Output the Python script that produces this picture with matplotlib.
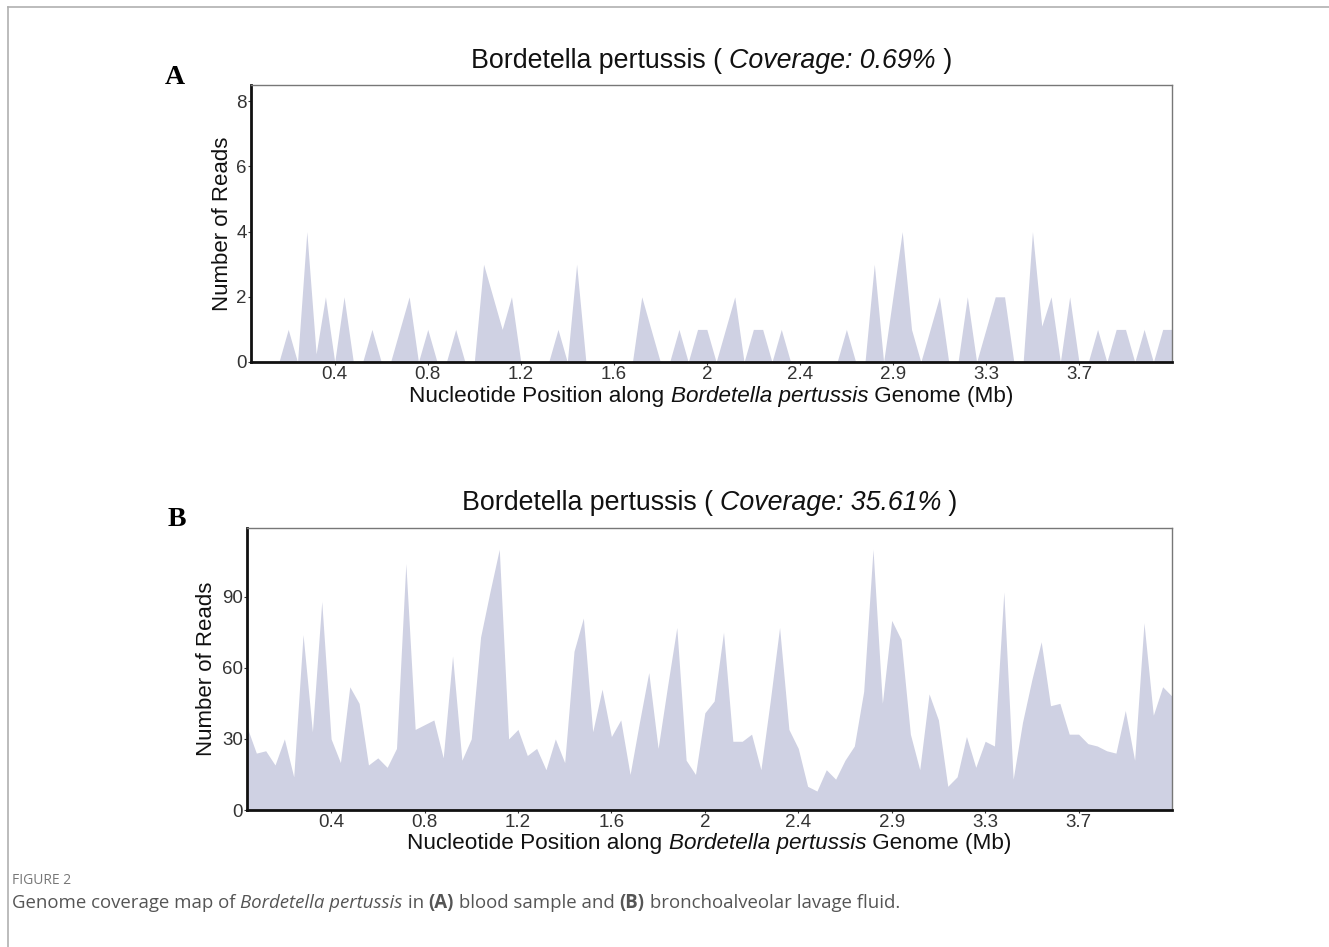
import matplotlib
matplotlib.use("Agg")
import matplotlib.pyplot as plt
import numpy as np
from matplotlib.lines import Line2D

plt.rcParams['font.family'] = ['Liberation Sans', 'DejaVu Sans']

# genome bins (Mb), 40 kb wide
bin_mb = np.round(np.arange(1, 101) * 0.04, 2)

# panel A: blood sample
reads_blood = [0, 0, 0, 0, 1, 0, 4, 0.25, 2, 0,
               2, 0, 0, 1, 0, 0, 1, 2, 0, 1,
               0, 0, 1, 0, 0, 3, 2, 1, 2, 0,
               0, 0, 0, 1, 0, 3, 0, 0, 0, 0,
               0, 0, 2, 1, 0, 0, 1, 0, 1, 1,
               0, 1, 2, 0, 1, 1, 0, 1, 0, 0,
               0, 0, 0, 0, 1, 0, 0, 3, 0, 2,
               4, 1, 0, 1, 2, 0, 0, 2, 0, 1,
               2, 2, 0, 0, 4, 1.1, 2, 0, 2, 0,
               0, 1, 0, 1, 1, 0, 1, 0, 1, 1]

# panel B: bronchoalveolar lavage fluid
reads_balf = [35, 24, 25, 19, 30, 14, 74, 33, 88, 30,
              20, 52, 45, 19, 22, 18, 26, 104, 34, 36,
              38, 22, 65, 21, 30, 73, 92, 110, 30, 34,
              23, 26, 17, 30, 20, 67, 81, 33, 51, 31,
              38, 15, 37, 58, 26, 52, 77, 21, 15, 41,
              46, 75, 29, 29, 32, 17, 46, 77, 34, 26,
              10, 8, 17, 13, 21, 27, 50, 110, 45, 80,
              72, 32, 17, 49, 38, 10, 14, 31, 18, 29,
              27, 92, 13, 37, 55, 71, 44, 45, 32, 32,
              28, 27, 25, 24, 42, 21, 79, 40, 52, 48]

tick_pos = [0.4, 0.8, 1.2, 1.6, 2.0, 2.4, 2.8, 3.2, 3.6]
tick_labels = ['0.4', '0.8', '1.2', '1.6', '2', '2.4', '2.9', '3.3', '3.7']

W, H = 1329, 947
fig = plt.figure(figsize=(W / 100, H / 100), dpi=100)
renderer = fig.canvas.get_renderer()
fill_color = '#cfd1e3'


def px_rect(left, top, right, bottom):
    return [left / W, 1 - bottom / H, (right - left) / W, (bottom - top) / H]


def mixed_text(x, y, parts, size, color, family='Liberation Sans', align='center'):
    """Lay out (text, style, weight) pieces on one line; x, y in pixels from top-left."""
    items = []
    total = 0
    for text, style, weight in parts:
        t = fig.text(0, 1 - y / H, text, ha='left', va='center', fontsize=size,
                     color=color, family=family, style=style, fontweight=weight)
        w = t.get_window_extent(renderer).width
        items.append((t, w))
        total += w
    start = x - total / 2 if align == 'center' else x
    for t, w in items:
        t.set_x(start / W)
        start += w


def draw_panel(rect, reads, ylim, yticks, title_pct, title_y, letter, letter_xy, ylab_x, xlab_y):
    ax = fig.add_axes(px_rect(*rect))
    ax.fill_between(bin_mb, reads, 0, color=fill_color, lw=0)
    ax.set_xlim(bin_mb[0], bin_mb[-1])
    ax.set_ylim(*ylim)
    ax.set_yticks(yticks)
    ax.set_xticks(tick_pos)
    ax.set_xticklabels(tick_labels)
    ax.tick_params(axis='both', labelsize=13.5, colors='#333333', length=2.5, width=0.8, pad=0.5)

    for side in ['left', 'bottom']:
        ax.spines[side].set_linewidth(2)
        ax.spines[side].set_color('#111111')
    for side in ['top', 'right']:
        ax.spines[side].set_linewidth(1)
        ax.spines[side].set_color('#777777')

    cx = (rect[0] + rect[2]) / 2
    mixed_text(cx, title_y, [('Bordetella pertussis ( ', 'normal', 'normal'),
                             ('Coverage: ' + title_pct + '%', 'italic', 'normal'),
                             (' )', 'normal', 'normal')], 19.3, '#111111')
    mixed_text(cx, xlab_y, [('Nucleotide Position along ', 'normal', 'normal'),
                            ('Bordetella pertussis', 'italic', 'normal'),
                            (' Genome (Mb)', 'normal', 'normal')], 16.2, '#111111')
    cy = 1 - (rect[1] + rect[3]) / 2 / H
    fig.text(ylab_x / W, cy, 'Number of Reads', rotation=90,
             ha='center', va='center', fontsize=16, color='#111111')
    fig.text(letter_xy[0] / W, 1 - letter_xy[1] / H, letter, ha='center', va='center',
             fontsize=20, fontweight='bold', family='Liberation Serif')
    return ax


draw_panel((251, 85, 1172, 362), reads_blood, (0, 8.5), [0, 2, 4, 6, 8], '0.69', 61,
           'A', (175, 77), 222, 396)
draw_panel((247, 528, 1172, 810), reads_balf, (0, 119), [0, 30, 60, 90], '35.61', 503,
           'B', (177, 519), 207, 843)

# page frame
fig.add_artist(Line2D([7.5 / W, 7.5 / W], [0, 1 - 7 / H], transform=fig.transFigure,
                      color='#b0b0b0', lw=1.2))
fig.add_artist(Line2D([7.5 / W, 1], [1 - 7 / H, 1 - 7 / H], transform=fig.transFigure,
                      color='#b0b0b0', lw=1.2))

# caption
fig.text(12 / W, 1 - 880 / H, 'FIGURE 2', ha='left', va='center', fontsize=10,
         color='#777777', family='Open Sans')
mixed_text(12, 903, [('Genome coverage map of ', 'normal', 'normal'),
                     ('Bordetella pertussis', 'italic', 'normal'),
                     (' in ', 'normal', 'normal'),
                     ('(A)', 'normal', 'bold'),
                     (' blood sample and ', 'normal', 'normal'),
                     ('(B)', 'normal', 'bold'),
                     (' bronchoalveolar lavage fluid.', 'normal', 'normal')],
           13.4, '#555555', family='Open Sans', align='left')

fig.savefig('out.png', dpi=100)
